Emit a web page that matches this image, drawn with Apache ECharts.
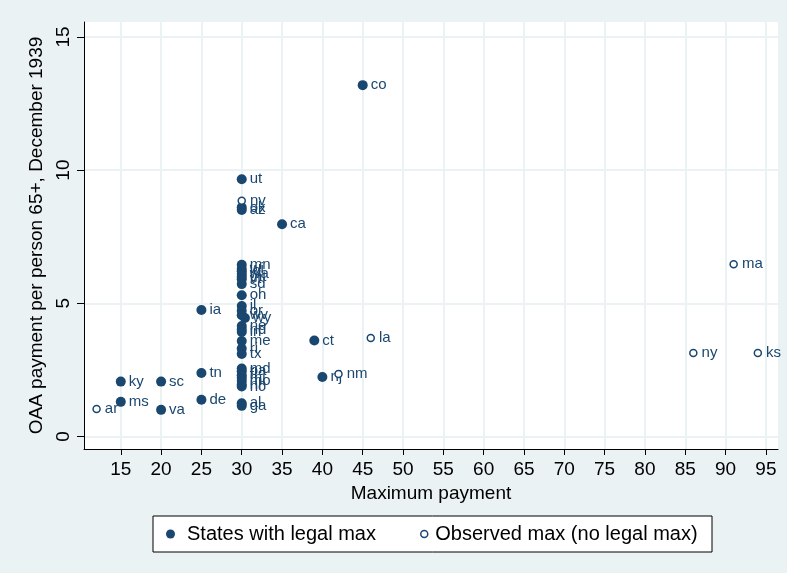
<!DOCTYPE html>
<html>
<head>
<meta charset="utf-8">
<script src="https://cdn.jsdelivr.net/npm/echarts@6/dist/echarts.min.js"></script>
<style>
html,body{margin:0;padding:0;background:#eaf2f3;}
#chart{width:787px;height:573px;}
</style>
</head>
<body>
<div id="chart"></div>
<script>
// States with a legal maximum (filled markers)
const legalStates = ['ky','ms','sc','va','tn','de','ia','ut','ok','az','mn','wi','id','wa','mt','vt','sd','oh','il','or','wv','wy','ne','nd','in','me','ri','tx','md','pa','fl','mi','mo','nh','nc','al','ga','ct','nj','ca','co'];
const legalMax    = [15,15,20,20,25,25,25,30,30,30,30,30,30,30,30,30,30,30,30,30,30,30.4,30,30,30,30,30,30,30,30,30,30,30,30,30,30,30,39,40,35,45];
const legalPay    = [2.06,1.30,2.06,1.00,2.38,1.38,4.75,9.66,8.60,8.50,6.45,6.30,6.20,6.10,6.00,5.90,5.72,5.30,4.90,4.72,4.55,4.45,4.15,4.02,3.92,3.58,3.30,3.10,2.55,2.45,2.30,2.20,2.08,1.95,1.88,1.25,1.15,3.60,2.23,7.97,13.19];

// States with no legal maximum (observed max, hollow markers)
const obsStates = ['ar','nv','nm','la','ny','ma','ks'];
const obsMax    = [12,30,42,46,86,91,94];
const obsPay    = [1.03,8.85,2.35,3.70,3.13,6.47,3.13];

// Axis ticks
const xTicks = [15,20,25,30,35,40,45,50,55,60,65,70,75,80,85,90,95];
const yTicks = [0,5,10,15];

const navy = '#1a476f';
const toPoints = (names, xs, ys) => names.map((n, i) => ({name: n, value: [xs[i], ys[i]]}));

const labelStyle = {
  show: true,
  position: 'right',
  formatter: p => p.name,
  fontFamily: 'Liberation Sans, Arial, sans-serif',
  fontSize: 15,
  color: navy
};

const chart = echarts.init(document.getElementById('chart'), null, {renderer: 'canvas'});
chart.setOption({
  backgroundColor: '#eaf2f3',
  animation: false,
  textStyle: {fontFamily: 'Liberation Sans, Arial, sans-serif'},
  grid: {
    left: 84, right: 9, top: 22, bottom: 124,
    show: true, backgroundColor: '#ffffff', borderWidth: 0
  },
  xAxis: {
    type: 'value',
    min: 10.44, max: 96.5,
    name: 'Maximum payment',
    nameLocation: 'middle',
    nameGap: 33,
    nameTextStyle: {fontSize: 19, color: '#000'},
    axisLine: {show: true, onZero: false, lineStyle: {color: '#000', width: 1}},
    axisTick: {show: true, customValues: xTicks, length: 6, lineStyle: {color: '#000'}},
    axisLabel: {customValues: xTicks, fontSize: 19, color: '#000', margin: 11},
    splitLine: {show: true, lineStyle: {color: '#eaf2f3', width: 2}}
  },
  yAxis: {
    type: 'value',
    min: -0.47, max: 15.56,
    name: 'OAA payment per person 65+, December 1939',
    nameLocation: 'middle',
    nameGap: 35,
    nameTextStyle: {fontSize: 19, color: '#000'},
    axisLine: {show: true, onZero: false, lineStyle: {color: '#000', width: 1}},
    axisTick: {show: true, customValues: yTicks, length: 7, lineStyle: {color: '#000'}},
    axisLabel: {customValues: yTicks, fontSize: 19, color: '#000', rotate: 90, margin: 11},
    splitLine: {show: true, lineStyle: {color: '#eaf2f3', width: 2}}
  },
  graphic: [{
    type: 'rect',
    shape: {x: 153, y: 516, width: 559, height: 36},
    style: {fill: '#fff', stroke: '#000', lineWidth: 1},
    z: 0
  }],
  legend: [{
    data: [{name: 'States with legal max', icon: 'circle'}],
    left: 166, top: 524, padding: 0,
    itemWidth: 23, itemHeight: 9,
    textStyle: {fontSize: 20, color: '#000'}
  }, {
    data: [{name: 'Observed max (no legal max)', icon: 'circle', itemStyle: {color: '#fff', borderColor: navy, borderWidth: 1.5}}],
    left: 420, top: 524, padding: 0,
    itemWidth: 12, itemHeight: 7,
    textStyle: {fontSize: 20, color: '#000'}
  }],
  series: [{
    name: 'States with legal max',
    type: 'scatter',
    symbol: 'circle',
    symbolSize: 10,
    itemStyle: {color: navy, opacity: 1},
    label: Object.assign({distance: 3}, labelStyle),
    data: toPoints(legalStates, legalMax, legalPay),
    z: 3
  }, {
    name: 'Observed max (no legal max)',
    type: 'scatter',
    symbol: 'circle',
    symbolSize: 7,
    itemStyle: {color: '#fff', borderColor: navy, borderWidth: 1.5, opacity: 1},
    label: Object.assign({distance: 4}, labelStyle),
    data: toPoints(obsStates, obsMax, obsPay),
    z: 4
  }]
});
</script>
</body>
</html>
